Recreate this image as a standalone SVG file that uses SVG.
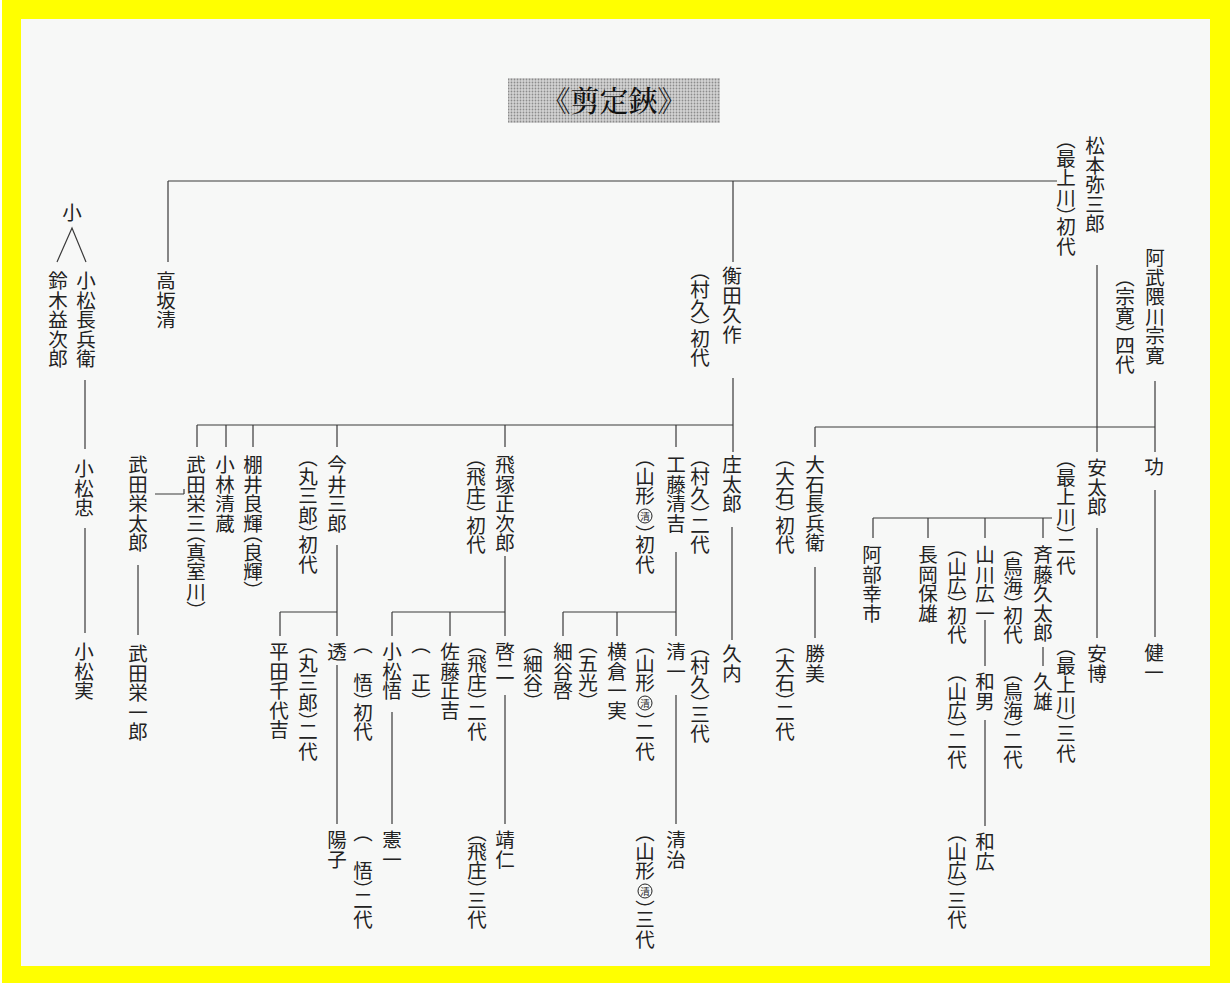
<svg xmlns="http://www.w3.org/2000/svg" width="1230" height="983" viewBox="0 0 1230 983">
<defs>
<pattern id="dots" width="3" height="3" patternUnits="userSpaceOnUse">
<rect width="3" height="3" fill="#d4d4d4"/>
<circle cx="1.5" cy="1.5" r="0.9" fill="#8c8c8c"/>
</pattern>
</defs>
<style>
.t{font-family:"Noto Sans CJK JP","Noto Sans CJK SC",sans-serif;font-size:19.5px;fill:#222;writing-mode:vertical-rl;font-feature-settings:"vpal" 1;}
.h{font-family:"Noto Sans CJK JP","Noto Sans CJK SC",sans-serif;font-size:19.5px;fill:#222;text-anchor:middle;}
.ttl{font-family:"Noto Serif CJK JP","Noto Sans CJK JP","Noto Sans CJK SC",serif;font-size:29px;font-weight:500;fill:#111;text-anchor:middle;}
.c{fill:none;stroke:#3a3a3a;stroke-width:1.2;}
.m{fill:none;stroke:#222;stroke-width:1;}
.ms{font-family:"Noto Sans CJK JP","Noto Sans CJK SC",sans-serif;font-size:9.5px;fill:#222;text-anchor:middle;}
</style>
<rect x="0" y="0" width="1230" height="983" fill="#ffff00"/>
<rect x="0" y="0" width="2" height="983" fill="#ffffff"/>
<rect x="21" y="19" width="1189" height="947" fill="#f7f8f7"/>

<g id="title">
<rect x="508" y="78" width="212" height="45" fill="url(#dots)"/>
<text class="ttl" x="614" y="112">《剪定鋏》</text>
</g>

<g id="connectors">
<path class="c" d="M168 181H1057M168 181V262M733 181V262M733 378V452"/>
<path class="c" d="M197 425H733M197 425V447M226 425V447M253 425V447M337 425V447M505 425V447M676 425V447"/>
<path class="c" d="M337 545V636M280 612H337M280 612V636M337 665V824"/>
<path class="c" d="M505 556V636M392 612H505M392 612V636M450 612V636M505 695V824M392 712V824"/>
<path class="c" d="M676 552V636M563 612H676M563 612V636M617 612V636M676 695V824"/>
<path class="c" d="M732 527V640"/>
<path class="c" d="M815 427H1155M815 427V447M815 567V638"/>
<path class="c" d="M1097 265V452M1155 381V452M1155 490V637M1097 528V638"/>
<path class="c" d="M873 518H1052M873 518V538M928 518V538M985 518V538M1043 518V538"/>
<path class="c" d="M1043 647V666M985 620V666M985 720V826"/>
<path class="c" d="M138 565V635M155 494H184M184 489V494"/>
<path class="c" d="M85 380V449M85 528V633M57 262L72 228L86 262"/>
</g>

<g id="n-matsumoto"><text class="t" x="1095" y="136">松本弥三郎</text><text class="t" x="1066" y="139">（最上川）初代</text></g>
<g id="n-abukuma"><text class="t" x="1155" y="248">阿武隈川宗寛</text><text class="t" x="1125" y="277">（宗寛）四代</text></g>
<g id="n-ko"><text class="h" x="72" y="220">小</text></g>
<g id="n-komatsu-chobei"><text class="t" x="86" y="271">小松長兵衛</text></g>
<g id="n-suzuki"><text class="t" x="58" y="271">鈴木益次郎</text></g>
<g id="n-takasaka"><text class="t" x="166" y="271">高坂清</text></g>
<g id="n-komatsu-tadashi"><text class="t" x="84" y="459">小松忠</text></g>
<g id="n-komatsu-minoru"><text class="t" x="84" y="642">小松実</text></g>
<g id="n-takeda-eitaro"><text class="t" x="138" y="455">武田栄太郎</text></g>
<g id="n-takeda-eiichiro"><text class="t" x="138" y="644">武田栄一郎</text></g>
<g id="n-takeda-eizo"><text class="t" x="196" y="455">武田栄三（真室川）</text></g>
<g id="n-kobayashi"><text class="t" x="225" y="455">小林清蔵</text></g>
<g id="n-tanai"><text class="t" x="253" y="455">棚井良輝（良輝）</text></g>
<g id="n-imai"><text class="t" x="337" y="455">今井三郎</text><text class="t" x="308" y="457">（丸三郎）初代</text></g>
<g id="n-hirata"><text class="t" x="279" y="642">平田千代吉</text></g>
<g id="n-toru"><text class="t" x="337" y="642">透</text><text class="t" x="308" y="644">（丸三郎）二代</text></g>
<g id="n-yoko"><text class="t" x="337" y="830">陽子</text></g>
<g id="n-hizuka"><text class="t" x="505" y="455">飛塚正次郎</text><text class="t" x="476" y="457">（飛庄）初代</text></g>
<g id="n-komatsu-satoru"><text class="t" x="392" y="642">小松悟</text><text class="t" x="363" y="644">（　悟）初代</text></g>
<g id="n-sato"><text class="t" x="450" y="642">佐藤正吉</text><text class="t" x="421" y="644">（　正）</text></g>
<g id="n-keiji"><text class="t" x="505" y="642">啓二</text><text class="t" x="477" y="644">（飛庄）二代</text></g>
<g id="n-kenichi"><text class="t" x="392" y="830">憲一</text><text class="t" x="363" y="832">（　悟）二代</text></g>
<g id="n-yasuhito"><text class="t" x="505" y="830">靖仁</text><text class="t" x="477" y="832">（飛庄）三代</text></g>
<g id="n-kudo"><text class="t" x="676" y="455">工藤清吉</text><text class="t" x="645" y="457">（山形　）初代</text><circle class="m" cx="645" cy="516" r="7"/><text class="ms" x="645" y="519.5">清</text></g>
<g id="n-seiichi"><text class="t" x="676" y="642">清一</text><text class="t" x="645" y="644">（山形　）二代</text><circle class="m" cx="645" cy="703" r="7"/><text class="ms" x="645" y="706.5">清</text></g>
<g id="n-yokokura"><text class="t" x="617" y="642">横倉一実</text><text class="t" x="588" y="644">（五光）</text></g>
<g id="n-hosoya"><text class="t" x="563" y="642">細谷啓</text><text class="t" x="533" y="644">（細谷）</text></g>
<g id="n-seiji"><text class="t" x="676" y="830">清治</text><text class="t" x="645" y="832">（山形　）三代</text><circle class="m" cx="645" cy="891" r="7"/><text class="ms" x="645" y="894.5">清</text></g>
<g id="n-shoda"><text class="t" x="732" y="266">衡田久作</text><text class="t" x="700" y="270">（村久）初代</text></g>
<g id="n-shotaro"><text class="t" x="732" y="455">庄太郎</text><text class="t" x="700" y="457">（村久）二代</text></g>
<g id="n-hisanai"><text class="t" x="732" y="644">久内</text><text class="t" x="700" y="646">（村久）三代</text></g>
<g id="n-oishi"><text class="t" x="815" y="455">大石長兵衛</text><text class="t" x="785" y="457">（大石）初代</text></g>
<g id="n-katsumi"><text class="t" x="815" y="644">勝美</text><text class="t" x="785" y="644">（大石）二代</text></g>
<g id="n-abe"><text class="t" x="872" y="545">阿部幸市</text></g>
<g id="n-nagaoka"><text class="t" x="928" y="545">長岡保雄</text></g>
<g id="n-yamakawa"><text class="t" x="985" y="545">山川広一</text><text class="t" x="957" y="547">（山広）初代</text></g>
<g id="n-saito"><text class="t" x="1043" y="545">斉藤久太郎</text><text class="t" x="1013" y="547">（鳥海）初代</text></g>
<g id="n-hisao"><text class="t" x="1043" y="672">久雄</text><text class="t" x="1013" y="672">（鳥海）二代</text></g>
<g id="n-kazuo"><text class="t" x="985" y="672">和男</text><text class="t" x="957" y="672">（山広）二代</text></g>
<g id="n-kazuhiro"><text class="t" x="985" y="832">和広</text><text class="t" x="957" y="832">（山広）三代</text></g>
<g id="n-yasutaro"><text class="t" x="1097" y="458">安太郎</text><text class="t" x="1066" y="458">（最上川）二代</text></g>
<g id="n-yasuhiro"><text class="t" x="1097" y="644">安博</text><text class="t" x="1066" y="646">（最上川）三代</text></g>
<g id="n-isao"><text class="t" x="1154" y="457">功</text></g>
<g id="n-kenichi2"><text class="t" x="1154" y="643">健一</text></g>
</svg>
